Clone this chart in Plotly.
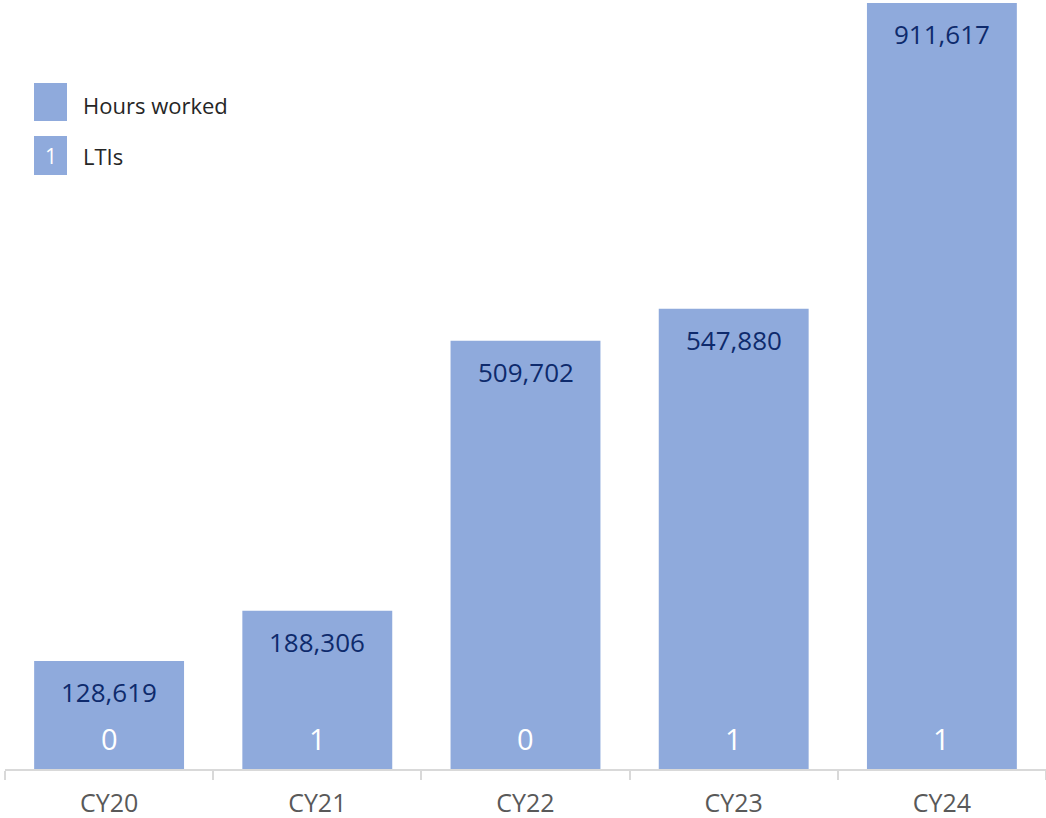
import plotly.graph_objects as go

categories = ["CY20", "CY21", "CY22", "CY23", "CY24"]
hours_worked = [128619, 188306, 509702, 547880, 911617]
ltis = [0, 1, 0, 1, 1]

BAR = "#8faadc"
NAVY = "#0e2a6c"
FONT = "Open Sans"

fig = go.Figure()
fig.add_trace(go.Bar(x=categories, y=hours_worked, marker_color=BAR,
                     marker_line_width=0, name="Hours worked", hoverinfo="skip"))

for c, h, l in zip(categories, hours_worked, ltis):
    fig.add_annotation(x=c, y=h, xref="x", yref="y", text=f"{h:,}", showarrow=False,
                       yanchor="middle", yshift=-31,
                       font=dict(family=FONT, size=26, color=NAVY))
    fig.add_annotation(x=c, y=0, xref="x", yref="y", text=str(l), showarrow=False,
                       yanchor="middle", yshift=31,
                       font=dict(family=FONT, size=29, color="white"))

# legend (manual)
W, H = 1041, 766
def px_x(p):
    return (p - 5) / W
def px_y(p):
    return (769 - p) / H

fig.add_shape(type="rect", xref="paper", yref="paper", x0=px_x(34), x1=px_x(67),
              y0=px_y(121), y1=px_y(83), fillcolor=BAR, line_width=0)
fig.add_shape(type="rect", xref="paper", yref="paper", x0=px_x(34), x1=px_x(67),
              y0=px_y(175), y1=px_y(136), fillcolor=BAR, line_width=0)
fig.add_annotation(xref="paper", yref="paper", x=px_x(81), y=px_y(105), text="Hours worked",
                   showarrow=False, xanchor="left", yanchor="middle",
                   font=dict(family=FONT, size=22, color="#262626"))
fig.add_annotation(xref="paper", yref="paper", x=px_x(81), y=px_y(156), text="LTIs",
                   showarrow=False, xanchor="left", yanchor="middle",
                   font=dict(family=FONT, size=22, color="#262626"))
fig.add_annotation(xref="paper", yref="paper", x=px_x(50.5), y=px_y(156), text="1",
                   showarrow=False, xanchor="center", yanchor="middle",
                   font=dict(family=FONT, size=21, color="white"))

fig.update_layout(
    width=1046, height=818,
    margin=dict(l=5, r=0, t=3, b=49),
    plot_bgcolor="white", paper_bgcolor="white",
    showlegend=False, bargap=0.28,
    xaxis=dict(type="category", showline=True, linecolor="#d9d9d9", linewidth=2,
               ticks="outside", tickson="boundaries", ticklen=9, tickcolor="#d9d9d9",
               tickwidth=2, tickfont=dict(family=FONT, size=25, color="#595959"),
               ticklabelstandoff=11, showgrid=False),
    yaxis=dict(range=[0, 911617], visible=False, showgrid=False),
)

fig.write_html("out.html")
